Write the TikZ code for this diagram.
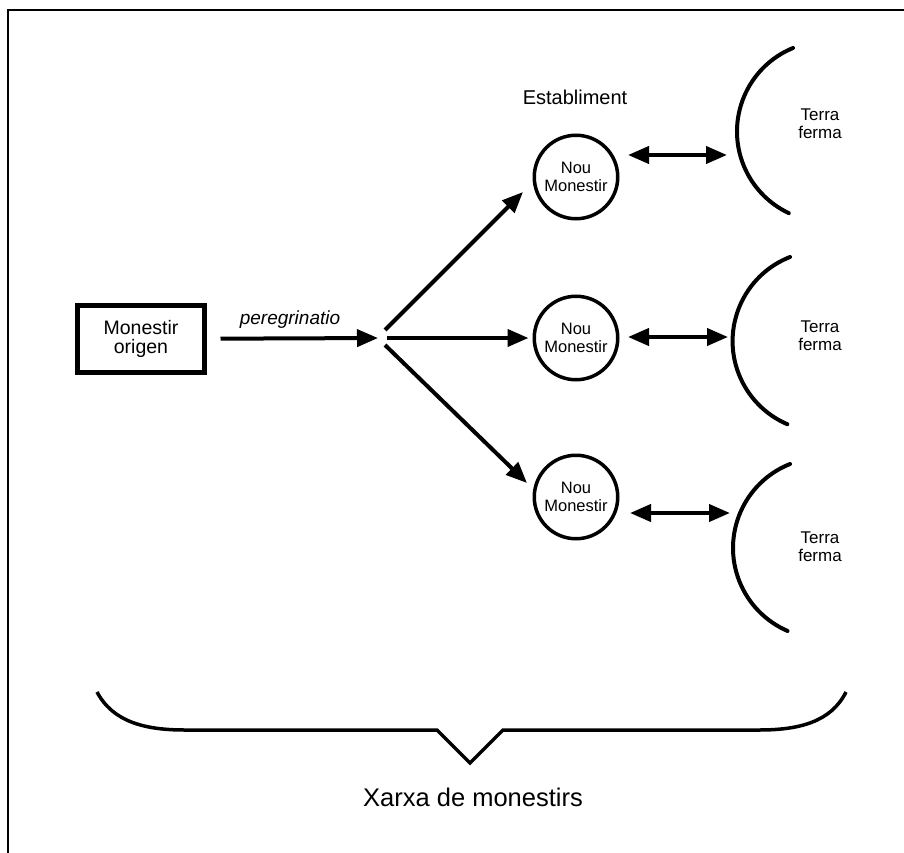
\documentclass[tikz,border=0pt]{standalone}
\usepackage{fontspec}
\setmainfont{Liberation Sans}
\usetikzlibrary{arrows.meta}
\begin{document}
\begin{tikzpicture}[x=1pt,y=-1pt,
  arr/.style={line width=4pt,-{Triangle[length=21pt,width=17pt]}},
  darr/.style={line width=4pt,{Triangle[length=21pt,width=17pt]}-{Triangle[length=21pt,width=17pt]}},
  monbox/.style={draw,line width=5pt,minimum width=127pt,minimum height=67pt,inner sep=0pt,align=center,font=\fontsize{19.5}{19}\selectfont},
  mon/.style={draw,circle,line width=3.5pt,minimum size=83.5pt,inner sep=0pt,align=center,font=\fontsize{16.5}{18}\selectfont},
  terra/.style={align=center,font=\fontsize{17}{18}\selectfont},
  coast/.style={line width=4pt,line cap=round},
  brace/.style={line width=3.5pt,line join=miter},
]
\useasboundingbox (0,0) rectangle (904,853);
\draw[line width=1.5pt] (8,853) -- (8,10) -- (904,10);

% nodes
\node[monbox] (orig) at (141,339) {Monestir\\origen};
\node[mon] (m1) at (576,177) {Nou\\Monestir};
\node[mon] (m2) at (576,338) {Nou\\Monestir};
\node[mon] (m3) at (576,497) {Nou\\Monestir};
\node[anchor=base,font=\fontsize{20}{22}\selectfont] (est) at (575,105) {Establiment};
\node[terra] (t1) at (820,124) {Terra\\ferma};
\node[terra] (t2) at (820,336) {Terra\\ferma};
\node[terra] (t3) at (820,547) {Terra\\ferma};
\node[anchor=base,font=\itshape\fontsize{19}{21}\selectfont] (per) at (290,324) {peregrinatio};
\node[anchor=base,font=\fontsize{25.5}{28}\selectfont] (xarxa) at (473,806) {Xarxa de monestirs};

% branch arrows
\coordinate (br) at (385,338);
\coordinate (b1s) at (385,330);
\coordinate (b1e) at (523,192);
\coordinate (b3s) at (385,345);
\coordinate (b3e) at (527,483);
\draw[arr,shorten <=13.5pt,shorten >=7pt] (orig) -- (br);
\draw[arr] (b1s) -- (b1e);
\draw[arr,shorten <=2pt,shorten >=4pt] (br) -- (m2);
\draw[arr] (b3s) -- (b3e);

% double arrows
\coordinate (d1a) at (628,155); \coordinate (d1b) at (727,155);
\coordinate (d2a) at (628,337); \coordinate (d2b) at (728,337);
\coordinate (d3a) at (630,513); \coordinate (d3b) at (730,513);
\draw[darr] (d1a) -- (d1b);
\draw[darr] (d2a) -- (d2b);
\draw[darr] (d3a) -- (d3b);

% coast lines
\draw[coast] (793,48) arc[start angle=247.7,end angle=115.2,radius=90.25];
\draw[coast] (790,257) arc[start angle=248.6,end angle=113.2,radius=90.4];
\draw[coast] (790,464) arc[start angle=248.3,end angle=113.4,radius=90.4];

% brace
\draw[brace] (97,692) .. controls (113,722) and (145,730) .. (185,730)
  -- (437,730) -- (470,763) -- (503,730) -- (759,730)
  .. controls (799,730) and (831,722) .. (846,692);
\end{tikzpicture}
\end{document}
